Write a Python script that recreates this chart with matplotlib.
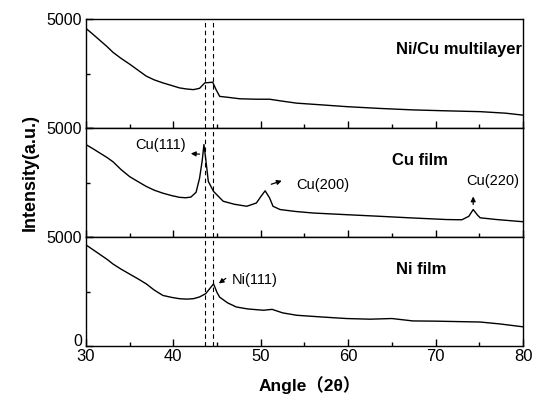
import numpy as np
import matplotlib
matplotlib.use('Agg')
import matplotlib.pyplot as plt
import matplotlib.transforms as mtransforms
from matplotlib.ticker import MultipleLocator

plt.rcParams['font.family'] = ['Liberation Sans', 'Noto Sans CJK SC', 'DejaVu Sans']

# Ni/Cu multilayer (top panel)
ang_multi = [30, 30.8, 31.6, 32.4, 33.1, 34.0, 35.0, 36.0, 36.9, 37.8, 38.8, 39.8,
             40.7, 41.5, 42.3, 43.0, 43.6, 44.5, 44.9, 45.3, 46.4, 47.6, 49.5,
             51.0, 52.5, 54.1, 57.0, 59.8, 63.5, 67.4, 71.0, 75.1, 78.0, 80.0]
int_multi = [4570, 4300, 4020, 3740, 3470, 3200, 2930, 2640, 2380, 2210, 2070, 1950,
             1840, 1790, 1760, 1820, 2070, 2100, 1750, 1450, 1400, 1340, 1320,
             1320, 1230, 1140, 1060, 980, 900, 830, 790, 750, 680, 590]

# Cu film (middle panel)
ang_cu = [30, 30.8, 31.6, 32.4, 33.1, 34.0, 35.0, 36.0, 36.9, 37.8, 38.8, 39.8,
          40.7, 41.4, 42.0, 42.6, 43.0, 43.3, 43.5, 43.7, 44.0, 44.6, 45.7, 47.0,
          48.4, 49.5, 50.0, 50.5, 51.0, 51.4, 52.2, 54.0, 56.0, 60.0, 63.6, 67.0,
          71.3, 73.0, 73.8, 74.3, 74.8, 75.1, 77.0, 80.0]
int_cu = [4240, 4050, 3850, 3650, 3450, 3100, 2770, 2530, 2320, 2150, 2010, 1900,
          1820, 1800, 1830, 2050, 2700, 3500, 4240, 3600, 2550, 2090, 1640, 1500,
          1410, 1560, 1850, 2120, 1800, 1410, 1260, 1170, 1100, 1020, 950, 880,
          800, 790, 950, 1260, 1000, 880, 800, 700]

# Ni film (bottom panel)
ang_ni = [30, 30.8, 31.6, 32.4, 33.1, 34.0, 35.0, 36.0, 36.9, 37.8, 38.8, 39.8,
          40.7, 41.5, 42.3, 43.0, 43.7, 44.2, 44.6, 45.0, 45.3, 46.2, 47.2, 48.5,
          50.3, 51.3, 52.5, 54.1, 57.0, 59.8, 62.5, 65.0, 67.4, 70.0, 72.5, 75.1,
          77.4, 80.0]
int_ni = [4640, 4420, 4200, 3980, 3760, 3530, 3300, 3070, 2850, 2570, 2320, 2230,
          2170, 2150, 2170, 2250, 2400, 2650, 2850, 2450, 2240, 1980, 1790, 1700,
          1640, 1680, 1520, 1410, 1330, 1260, 1230, 1260, 1150, 1140, 1120, 1100,
          1010, 880]

ref_lines = [43.6, 44.55]

fig, axes = plt.subplots(3, 1, sharex=True, figsize=(5.37, 4.0), dpi=100)
fig.subplots_adjust(left=0.160, right=0.974, top=0.9525, bottom=0.135, hspace=0)

panels = [(ang_multi, int_multi, 'Ni/Cu multilayer'),
          (ang_cu, int_cu, 'Cu film'),
          (ang_ni, int_ni, 'Ni film')]

for i, (ax, (x, y, name)) in enumerate(zip(axes, panels)):
    ax.plot(x, y, color='black', lw=1.0)
    for xv in ref_lines:
        ax.axvline(xv, color='black', lw=0.8, ls=(0, (4, 3)))
    ax.set_xlim(30, 80)
    ax.set_ylim(0, 5000)
    ax.set_yticks([0, 5000])
    if i < 2:
        ax.set_yticklabels(['', '5000'])
    else:
        ax.set_yticklabels(['0', '5000'])
    ax.yaxis.set_minor_locator(MultipleLocator(2500))
    ax.xaxis.set_major_locator(MultipleLocator(10))
    ax.xaxis.set_minor_locator(MultipleLocator(5))
    ax.tick_params(which='both', direction='in', top=False, right=False)
    ax.tick_params(which='major', length=5, width=1)
    ax.tick_params(which='minor', length=3, width=1)
    ax.tick_params(axis='y', labelsize=11.5, pad=3)
    ax.tick_params(axis='x', labelsize=12, pad=2)
    for s in ax.spines.values():
        s.set_linewidth(1.0)

# lift the bottom "0" label a little, as in the original
zero_lbl = axes[2].get_yticklabels()[0]
zero_lbl.set_transform(zero_lbl.get_transform() +
                       mtransforms.ScaledTranslation(0, 6 / 100, fig.dpi_scale_trans))

axes[0].text(79.9, 3580, 'Ni/Cu multilayer', ha='right', va='center',
             fontsize=12, fontweight='bold')
axes[1].text(65.0, 3490, 'Cu film', ha='left', va='center',
             fontsize=12, fontweight='bold')
axes[2].text(65.5, 3490, 'Ni film', ha='left', va='center',
             fontsize=12, fontweight='bold')

arrow = dict(arrowstyle='-|>', color='black', lw=0.9, mutation_scale=7,
             shrinkA=0, shrinkB=0)

# Cu(111)
axes[1].text(35.6, 4240, 'Cu(111)', ha='left', va='center', fontsize=10.5)
axes[1].annotate('', xy=(42.0, 3830), xytext=(43.0, 3800), arrowprops=arrow)
# Cu(200)
axes[1].text(54.1, 2400, 'Cu(200)', ha='left', va='center', fontsize=10.5)
axes[1].annotate('', xy=(52.4, 2580), xytext=(51.2, 2420), arrowprops=arrow)
# Cu(220)
axes[1].text(73.5, 2550, 'Cu(220)', ha='left', va='center', fontsize=10.5)
axes[1].annotate('', xy=(74.3, 1860), xytext=(74.3, 1490), arrowprops=arrow)
# Ni(111)
axes[2].text(46.7, 3030, 'Ni(111)', ha='left', va='center', fontsize=10.5)
axes[2].annotate('', xy=(45.2, 2870), xytext=(46.0, 3100), arrowprops=arrow)

fig.text(0.056, 0.57, 'Intensity(a.u.)', rotation=90, ha='center', va='center',
         fontsize=13, fontweight='bold')
fig.text(0.577, 0.0375, 'Angle（2θ）', ha='center', va='center',
         fontsize=12.5, fontweight='bold')

fig.savefig('out.png', dpi=100)
